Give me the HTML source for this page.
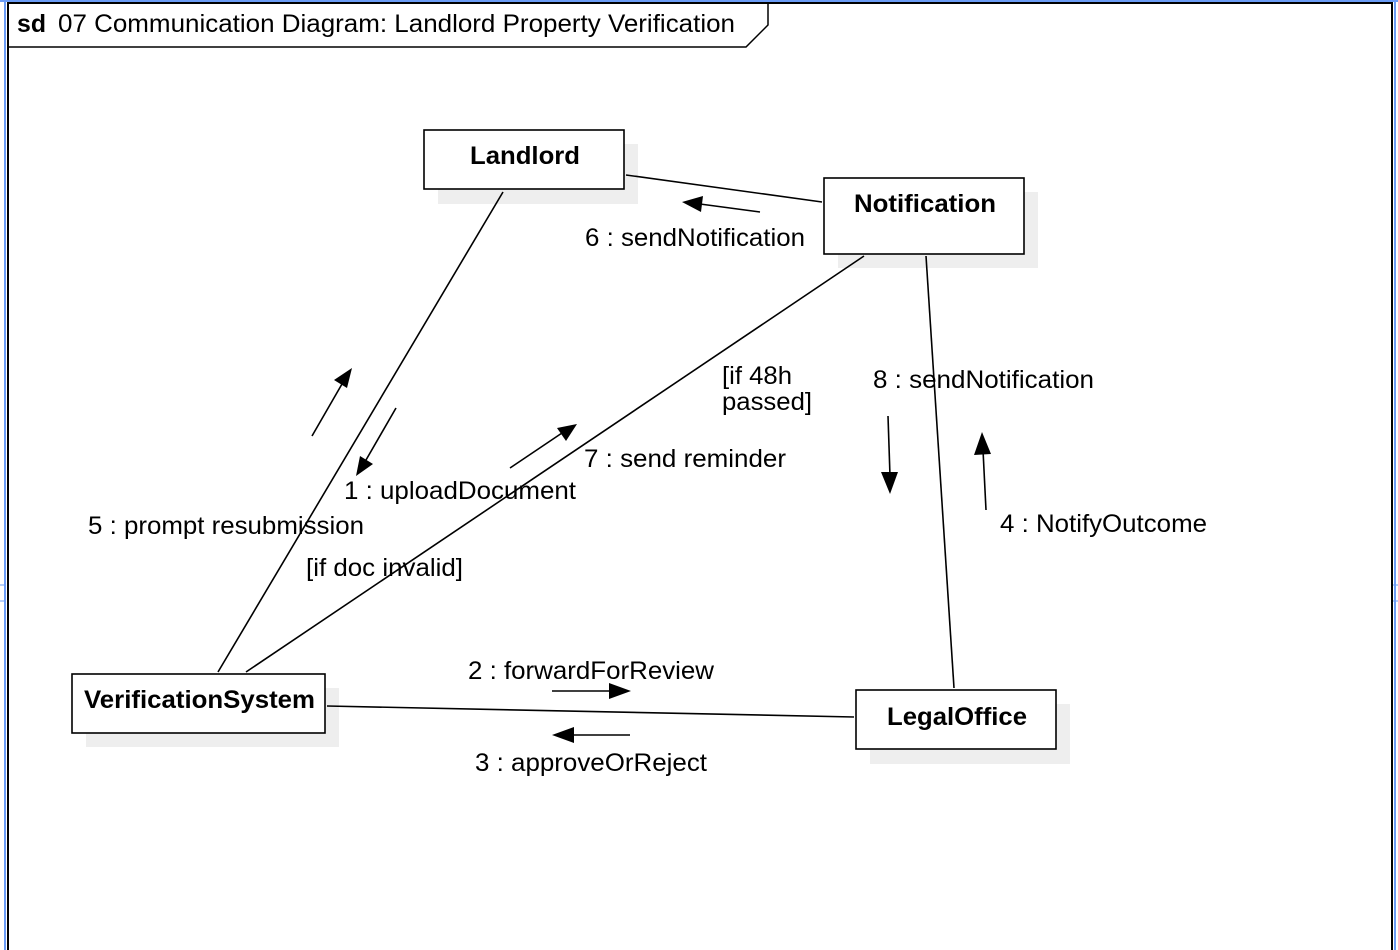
<!DOCTYPE html>
<html><head><meta charset="utf-8"><style>
html,body{margin:0;padding:0;background:#fff;}
svg{display:block;font-family:"Liberation Sans",Arial,sans-serif;}
</style></head><body>
<svg width="1398" height="950" viewBox="0 0 1398 950" xmlns="http://www.w3.org/2000/svg">
<rect x="0" y="0" width="1398" height="950" fill="#fff"/>
<line x1="0" y1="1" x2="1398" y2="1" stroke="#6b9cf5" stroke-width="2"/>
<line x1="5" y1="0" x2="5" y2="950" stroke="#6b9cf5" stroke-width="2"/>
<line x1="1395" y1="0" x2="1395" y2="950" stroke="#6b9cf5" stroke-width="2"/>
<line x1="0" y1="585" x2="5" y2="585" stroke="#6b9cf5" stroke-width="1"/>
<line x1="0" y1="601" x2="5" y2="601" stroke="#6b9cf5" stroke-width="1"/>
<line x1="1393" y1="585" x2="1398" y2="585" stroke="#6b9cf5" stroke-width="1"/>
<line x1="1393" y1="601" x2="1398" y2="601" stroke="#6b9cf5" stroke-width="1"/>
<rect x="8" y="3" width="1384" height="960" fill="none" stroke="#000" stroke-width="2"/>
<path d="M8 47 H746 L768 25 V3" fill="none" stroke="#000" stroke-width="1.5"/>
<text x="17" y="32" font-size="25" font-weight="bold" textLength="29" lengthAdjust="spacingAndGlyphs">sd</text>
<text x="58" y="32" font-size="25" textLength="677" lengthAdjust="spacingAndGlyphs">07 Communication Diagram: Landlord Property Verification</text>

<g fill="#eeeeee">
<rect x="438" y="144" width="200" height="60"/>
<rect x="838" y="192" width="200" height="76"/>
<rect x="86" y="688" width="253" height="59"/>
<rect x="870" y="704" width="200" height="60"/>
</g>

<g stroke="#000" stroke-width="1.6" fill="none">
<line x1="626" y1="175" x2="822" y2="202"/>
<line x1="503" y1="192" x2="218" y2="672"/>
<line x1="864" y1="256" x2="246" y2="672"/>
<line x1="926" y1="256" x2="954" y2="688"/>
<line x1="327" y1="706" x2="854" y2="717"/>
<line x1="760" y1="212" x2="700" y2="204"/>
<line x1="312" y1="436" x2="342" y2="384"/>
<line x1="396" y1="408" x2="366" y2="460"/>
<line x1="510" y1="468" x2="562" y2="433"/>
<line x1="888" y1="416" x2="890" y2="476"/>
<line x1="986" y1="510" x2="983" y2="450"/>
<line x1="552" y1="691" x2="614" y2="691"/>
<line x1="630" y1="735" x2="570" y2="735"/>
</g>
<g fill="#000">
<polygon points="682,202 703,196 701,212"/>
<polygon points="352,368 334,380 347,388"/>
<polygon points="356,476 360,456 373,464"/>
<polygon points="577,424 566,441 557,428"/>
<polygon points="890,494 881,472 898,472"/>
<polygon points="982,432 974,455 991,454"/>
<polygon points="631,691 609,683 609,699"/>
<polygon points="552,735 574,727 574,743"/>
</g>

<g fill="#fff" stroke="#000" stroke-width="1.6">
<rect x="424" y="130" width="200" height="59"/>
<rect x="824" y="178" width="200" height="76"/>
<rect x="72" y="674" width="253" height="59"/>
<rect x="856" y="690" width="200" height="59"/>
</g>
<g font-size="25" font-weight="bold">
<text x="470" y="164" textLength="110" lengthAdjust="spacingAndGlyphs">Landlord</text>
<text x="854" y="212" textLength="142" lengthAdjust="spacingAndGlyphs">Notification</text>
<text x="84" y="708" textLength="231" lengthAdjust="spacingAndGlyphs">VerificationSystem</text>
<text x="887" y="725" textLength="140" lengthAdjust="spacingAndGlyphs">LegalOffice</text>
</g>

<g font-size="25">
<text x="585" y="246" textLength="220" lengthAdjust="spacingAndGlyphs">6 : sendNotification</text>
<text x="722" y="384" textLength="70" lengthAdjust="spacingAndGlyphs">[if 48h</text>
<text x="722" y="410" textLength="90" lengthAdjust="spacingAndGlyphs">passed]</text>
<text x="873" y="388" textLength="221" lengthAdjust="spacingAndGlyphs">8 : sendNotification</text>
<text x="584" y="467" textLength="202" lengthAdjust="spacingAndGlyphs">7 : send reminder</text>
<text x="344" y="499" textLength="232" lengthAdjust="spacingAndGlyphs">1 : uploadDocument</text>
<text x="88" y="534" textLength="276" lengthAdjust="spacingAndGlyphs">5 : prompt resubmission</text>
<text x="306" y="576" textLength="157" lengthAdjust="spacingAndGlyphs">[if doc invalid]</text>
<text x="1000" y="532" textLength="207" lengthAdjust="spacingAndGlyphs">4 : NotifyOutcome</text>
<text x="468" y="679" textLength="246" lengthAdjust="spacingAndGlyphs">2 : forwardForReview</text>
<text x="475" y="771" textLength="232" lengthAdjust="spacingAndGlyphs">3 : approveOrReject</text>
</g>
</svg>
</body></html>
